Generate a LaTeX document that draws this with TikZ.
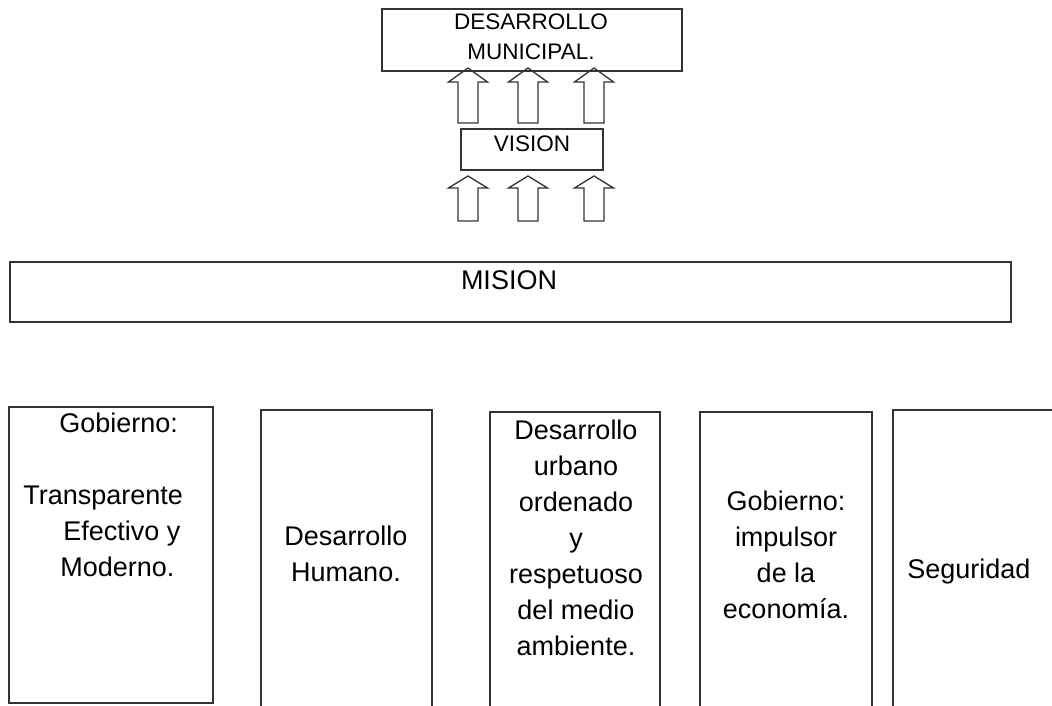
\documentclass[tikz,border=0pt]{standalone}
\usepackage{fontspec}
\setmainfont{Liberation Sans}
\tikzset{
    caja/.style={shape=rectangle, draw=black!80, line width=0.65pt, inner sep=0pt},
    linea/.style={draw=black!80, line width=0.65pt, line join=miter},
    texto/.style={inner sep=0pt, align=center, font=\fontsize{13.5}{18}\selectfont},
    textochico/.style={inner sep=0pt, align=center, font=\fontsize{11.25}{15}\selectfont}}

\begin{document}
\begin{tikzpicture}[x=0.5pt, y=-0.5pt]
    \useasboundingbox (0,0) rectangle (1052,705);
    \clip (0,0) rectangle (1052,705);

    % cajas de arriba
    \node[caja, minimum width=150pt, minimum height=31pt] (DM) at (532,40) {};
    \node[textochico] (tDM) at (531,37) {DESARROLLO\\MUNICIPAL.};
    \node[caja, minimum width=71pt, minimum height=20.5pt] (V) at (532,149.5) {};
    \node[textochico] (tV) at (532,144) {VISION};

    % flechas
    \foreach \x in {468,528,594} {
        \draw[linea] (\x-10,123) -- (\x-10,82) -- (\x-19.5,82) -- (\x,68) -- (\x+19.5,82) -- (\x+10,82) -- (\x+10,123) -- cycle;
        \draw[linea] (\x-10,221) -- (\x-10,188) -- (\x-19.5,188) -- (\x,176) -- (\x+19.5,188) -- (\x+10,188) -- (\x+10,221) -- cycle;
    }

    \node[caja, minimum width=500.5pt, minimum height=30pt] (M) at (510.5,292) {};
    \node[texto] (tM) at (509,280) {MISION};

    % cajas de abajo
    \node[caja, minimum width=102pt, minimum height=148pt] (B1) at (111,555) {};
    \node[caja, minimum width=85.5pt, minimum height=160pt] (B2) at (346.5,570) {};
    \node[caja, minimum width=85pt, minimum height=159pt] (B3) at (575,571) {};
    \node[caja, minimum width=86pt, minimum height=159pt] (B4) at (786,571) {};
    \node[caja, minimum width=93.5pt, minimum height=160pt] (B5) at (986.5,570) {};

    \node[texto, align=left, anchor=west] (t1) at (23,495) {\hspace*{18pt}Gobierno:\\[18pt]Transparente\\\hspace*{20pt}Efectivo y\\\hspace*{18.5pt}Moderno.};
    \node[texto] (t2) at (346,553.5) {Desarrollo\\Humano.};
    \node[texto] (t3) at (576,537.5) {Desarrollo\\urbano\\ordenado\\y\\respetuoso\\del medio\\ambiente.};
    \node[texto] (t4) at (786,554.5) {Gobierno:\\impulsor\\de la\\economía.};
    \node[texto, anchor=west] (t5) at (907,572) {Seguridad};

\end{tikzpicture}
\end{document}
